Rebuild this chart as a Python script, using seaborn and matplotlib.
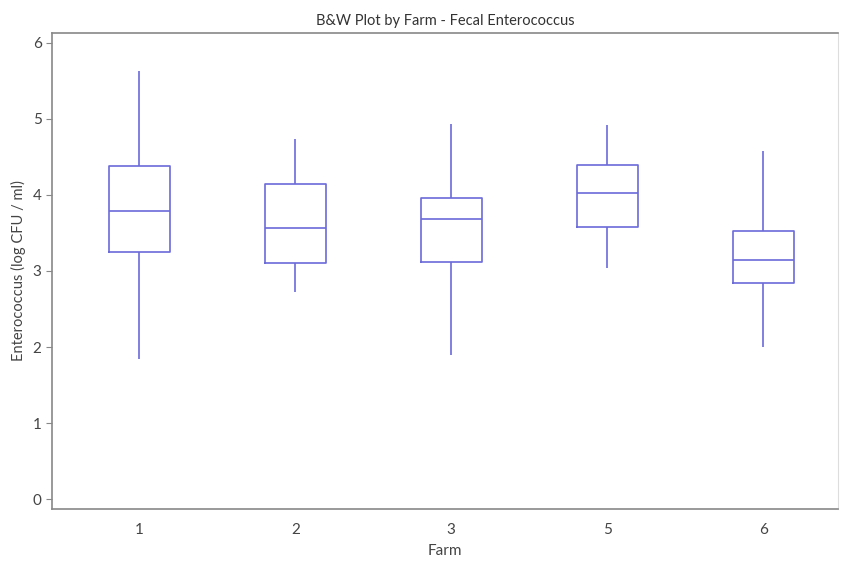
import numpy as np
import pandas as pd
import seaborn as sns
import matplotlib
matplotlib.use("Agg")
import matplotlib.pyplot as plt

# five-number summaries: low whisker, Q1, median, Q3, high whisker
farms = ["1", "2", "3", "5", "6"]
farm_1 = [1.84, 3.25, 3.79, 4.38, 5.63]
farm_2 = [2.72, 3.11, 3.57, 4.14, 4.74]
farm_3 = [1.89, 3.12, 3.68, 3.96, 4.93]
farm_5 = [3.04, 3.58, 4.03, 4.39, 4.92]
farm_6 = [2.00, 2.84, 3.14, 3.53, 4.58]

rows = []
for farm, vals in zip(farms, [farm_1, farm_2, farm_3, farm_5, farm_6]):
    for v in vals:
        rows.append({"Farm": farm, "value": v})
df = pd.DataFrame(rows)

sns.set_style("white")
plt.rcParams['font.family'] = ['Lato', 'DejaVu Sans']

line_col = "#6b6bd9"
fig = plt.figure(figsize=(8.51, 5.62), dpi=100)
ax = fig.add_axes([0.0611, 0.0943, 0.9236, 0.847])

sns.boxplot(data=df, x="Farm", y="value", order=farms, fill=False, color=line_col,
            whis=(0, 100), showcaps=False, width=0.39, linewidth=1.2,
            medianprops=dict(color=line_col, linewidth=1.2), ax=ax)

ax.set_xlim(-0.56, 4.48)
ax.set_ylim(-0.13, 6.13)
ax.set_yticks([0, 1, 2, 3, 4, 5, 6])
ax.set_title("B&W Plot by Farm - Fecal Enterococcus", fontsize=10.5, color="#333333", pad=6)
ax.set_xlabel("Farm", fontsize=11, color="#444444", labelpad=5)
ax.set_ylabel("Enterococcus (log CFU / ml)", fontsize=10.5, color="#444444", labelpad=5)
ax.tick_params(axis="y", length=4, color="#888888", labelsize=11, labelcolor="#444444", left=True)
ax.tick_params(axis="x", length=0, labelsize=11, labelcolor="#444444", pad=10)
for side in ["left", "bottom", "top"]:
    ax.spines[side].set_color("#888888")
    ax.spines[side].set_linewidth(1.2)
ax.spines["right"].set_color("#dddddd")

fig.savefig("out.png", dpi=100)
